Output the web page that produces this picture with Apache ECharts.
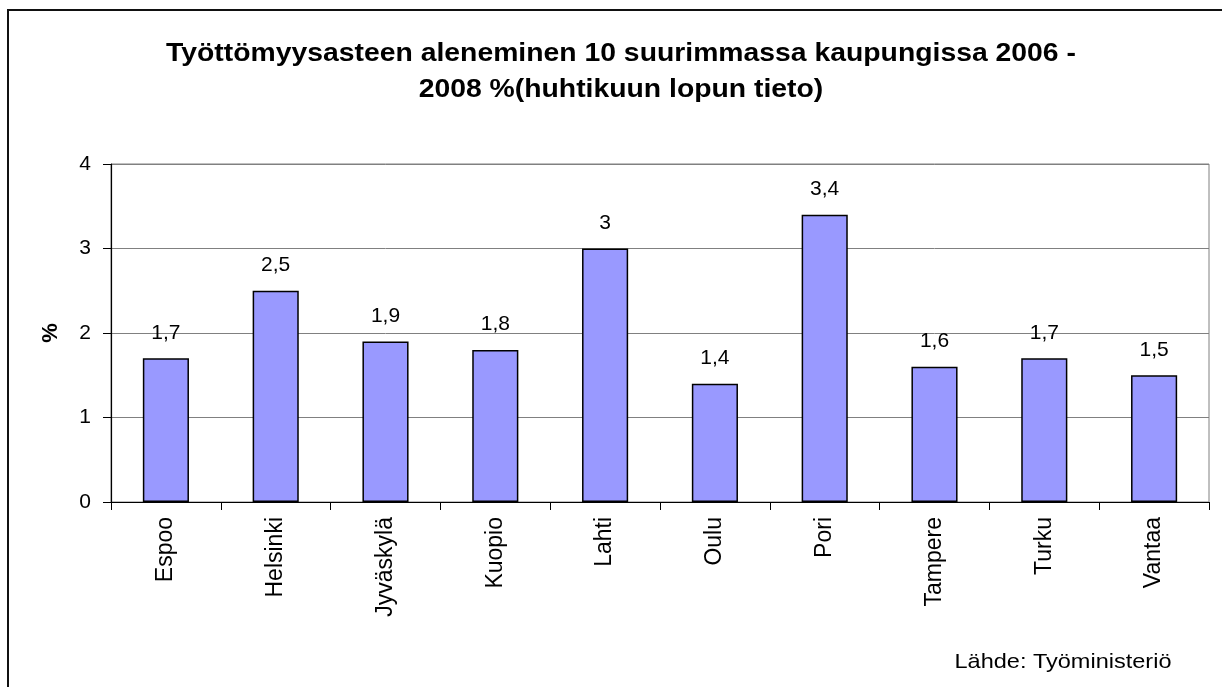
<!DOCTYPE html>
<html>
<head>
<meta charset="utf-8">
<script src="https://cdn.jsdelivr.net/npm/echarts@6/dist/echarts.min.js"></script>
<style>
html,body{margin:0;padding:0;background:#fff;}
#frame{position:absolute;left:7px;top:9px;width:1240px;height:700px;border:2px solid #111;box-sizing:border-box;}
#c{position:absolute;left:0;top:0;width:1222px;height:687px;}
</style>
</head>
<body>
<div id="frame"></div>
<div id="c"></div>
<script>
const titleText = 'Työttömyysasteen aleneminen 10 suurimmassa kaupungissa 2006 -\n2008 %(huhtikuun lopun tieto)';
const categories = ['Espoo','Helsinki','Jyväskylä','Kuopio','Lahti','Oulu','Pori','Tampere','Turku','Vantaa'];
const values = [1.7, 2.5, 1.9, 1.8, 3, 1.4, 3.4, 1.6, 1.7, 1.5];
const yTicks = [0, 1, 2, 3, 4];
const yAxisName = '%';
const sourceText = 'Lähde: Työministeriö';

const chart = echarts.init(document.getElementById('c'), null, {renderer:'canvas'});
const font = 'Liberation Sans, Arial, sans-serif';
chart.setOption({
  backgroundColor: 'transparent',
  animation: false,
  graphic: [{
    type: 'text',
    x: 621,
    y: 36,
    scaleX: 1.09,
    originX: 0,
    style: {
      text: titleText,
      align: 'center',
      verticalAlign: 'top',
      fontFamily: font,
      fontSize: 26,
      fontWeight: 'bold',
      lineHeight: 36,
      fill: '#000'
    }
  },{
    type: 'text',
    x: 1063,
    y: 652,
    scaleX: 1.12,
    originX: 0,
    style: {
      text: sourceText,
      align: 'center',
      verticalAlign: 'top',
      fontFamily: font,
      fontSize: 21,
      fill: '#000'
    }
  }],
  grid: {left: 111, right: 13, top: 164, bottom: 185, containLabel: false,
         show: true, borderColor: '#808080', borderWidth: 1},
  xAxis: {
    type: 'category',
    data: categories,
    boundaryGap: true,
    axisLine: {lineStyle: {color: '#000', width: 1.2}},
    axisTick: {show: true, alignWithLabel: false, length: 8, lineStyle: {color: '#000'}},
    axisLabel: {rotate: 90, margin: 15, fontFamily: font, fontSize: 23, color: '#000', interval: 0}
  },
  yAxis: {
    type: 'value',
    min: yTicks[0],
    max: yTicks[yTicks.length-1],
    interval: 1,
    name: yAxisName,
    nameLocation: 'middle',
    nameGap: 49,
    nameRotate: 90,
    nameTextStyle: {fontFamily: font, fontSize: 22, fontWeight: 'bold', color: '#000'},
    axisLine: {show: true, lineStyle: {color: '#000', width: 1.2}},
    axisTick: {show: true, length: 8, lineStyle: {color: '#000'}},
    axisLabel: {margin: 20, fontFamily: font, fontSize: 21, color: '#000'},
    splitLine: {show: true, lineStyle: {color: '#808080', width: 1}}
  },
  series: [{
    type: 'bar',
    data: values,
    barWidth: '42%',
    itemStyle: {color: '#9999FF', borderColor: '#000', borderWidth: 1.5},
    label: {
      show: true,
      position: 'top',
      distance: 15,
      fontFamily: font,
      fontSize: 21,
      color: '#000',
      formatter: p => String(p.value).replace('.', ',')
    }
  }]
});
</script>
</body>
</html>
